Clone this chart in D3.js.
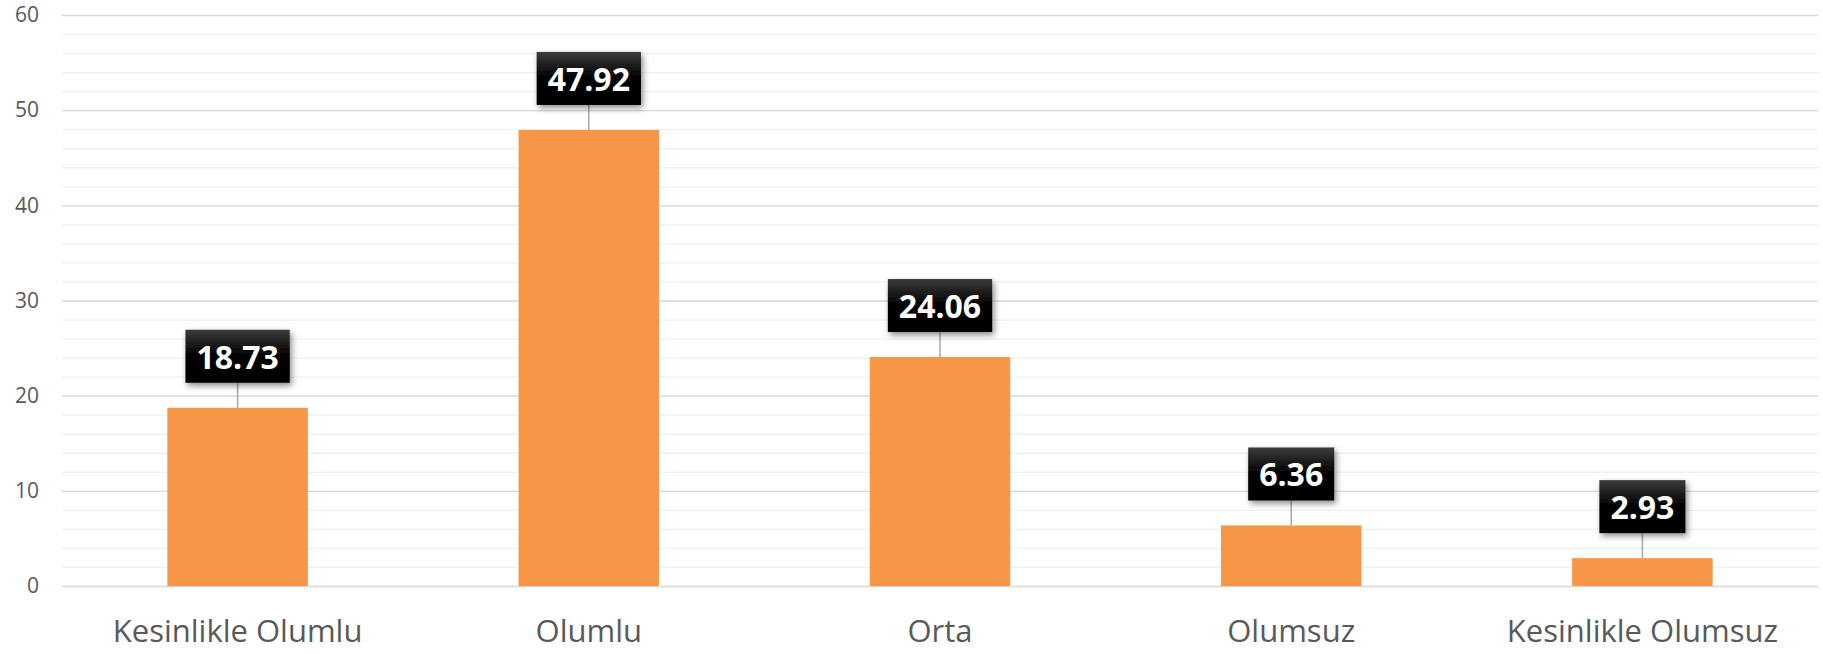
<!DOCTYPE html>
<html>
<head>
<meta charset="utf-8">
<script src="https://cdn.jsdelivr.net/npm/d3@7"></script>
<style>
  body { margin: 0; background: #fff; }
  svg { display: block; }
</style>
</head>
<body>
<svg id="chart" width="1823" height="654"></svg>
<script>
// valeurs
const categories = ["Kesinlikle Olumlu", "Olumlu", "Orta", "Olumsuz", "Kesinlikle Olumsuz"];
const values = [18.73, 47.92, 24.06, 6.36, 2.93];
const yTicks = [0, 10, 20, 30, 40, 50, 60];
const yMinorTicks = d3.range(0, 61, 2);

const plotLeft = 62, plotRight = 1818, plotTop = 15, plotBottom = 586;

const svg = d3.select("#chart");

const defs = svg.append("defs");
const grad = defs.append("linearGradient")
  .attr("id", "boxgrad").attr("x1", 0).attr("y1", 0).attr("x2", 0).attr("y2", 1);
grad.append("stop").attr("offset", "0%").attr("stop-color", "#3c3c3c");
grad.append("stop").attr("offset", "45%").attr("stop-color", "#050505");
grad.append("stop").attr("offset", "100%").attr("stop-color", "#000");
defs.append("filter").attr("id", "shadow")
  .attr("x", "-20%").attr("y", "-20%").attr("width", "150%").attr("height", "160%")
  .append("feDropShadow")
  .attr("dx", 2).attr("dy", 3).attr("stdDeviation", 3)
  .attr("flood-color", "#000").attr("flood-opacity", 0.45);

const x = d3.scaleBand()
  .domain(categories)
  .range([plotLeft, plotRight])
  .paddingInner(0.6)
  .paddingOuter(0.3);

const y = d3.scaleLinear()
  .domain([0, 60])
  .range([plotBottom, plotTop]);

// grille secondaire (tous les 2)
svg.append("g")
  .attr("transform", `translate(${plotLeft},0)`)
  .call(d3.axisLeft(y).tickValues(yMinorTicks).tickSize(-(plotRight - plotLeft)).tickFormat(""))
  .call(g => g.select(".domain").remove())
  .call(g => g.selectAll(".tick line").attr("stroke", "#f0f0f0").attr("stroke-width", 1.3));

// grille principale + labels
svg.append("g")
  .attr("transform", `translate(${plotLeft},0)`)
  .call(d3.axisLeft(y).tickValues(yTicks).tickSize(-(plotRight - plotLeft)).tickPadding(23))
  .call(g => g.select(".domain").remove())
  .call(g => g.selectAll(".tick line").attr("stroke", "#d9d9d9").attr("stroke-width", 1.3))
  .call(g => g.selectAll(".tick text")
    .attr("fill", "#595959")
    .attr("font-family", "'Open Sans', sans-serif")
    .attr("font-size", 21));

// barres
svg.append("g").selectAll("rect")
  .data(values)
  .enter()
  .append("rect")
  .attr("x", (d, i) => x(categories[i]))
  .attr("y", d => y(d))
  .attr("width", x.bandwidth())
  .attr("height", d => plotBottom - y(d))
  .attr("fill", "#f79646");

// axe x
svg.append("g")
  .attr("transform", `translate(0,${plotBottom})`)
  .call(d3.axisBottom(x).tickSize(0).tickPadding(34))
  .call(g => g.select(".domain").remove())
  .call(g => g.selectAll(".tick text")
    .attr("fill", "#595959")
    .attr("font-family", "'Open Sans', sans-serif")
    .attr("font-size", 31));

// étiquettes de valeur
const boxH = 53, gap = 25;
const labels = svg.append("g").selectAll("g")
  .data(values)
  .enter()
  .append("g")
  .attr("transform", (d, i) => `translate(${x(categories[i]) + x.bandwidth() / 2},${y(d) - gap - boxH})`);

labels.append("line")
  .attr("x1", 0).attr("x2", 0)
  .attr("y1", boxH).attr("y2", gap + boxH)
  .attr("stroke", "#a6a6a6").attr("stroke-width", 1.5);

labels.each(function(d) {
  const g = d3.select(this);
  const t = g.append("text")
    .text(d.toFixed(2))
    .attr("x", 0)
    .attr("y", 39)
    .attr("text-anchor", "middle")
    .attr("fill", "#fff")
    .attr("font-family", "'Open Sans', sans-serif")
    .attr("font-weight", "bold")
    .attr("font-size", 32);
  const w = t.node().getComputedTextLength() + 22;
  g.insert("rect", "text")
    .attr("x", -w / 2).attr("y", 0)
    .attr("width", w).attr("height", boxH)
    .attr("fill", "url(#boxgrad)")
    .attr("filter", "url(#shadow)");
});
</script>
</body>
</html>
